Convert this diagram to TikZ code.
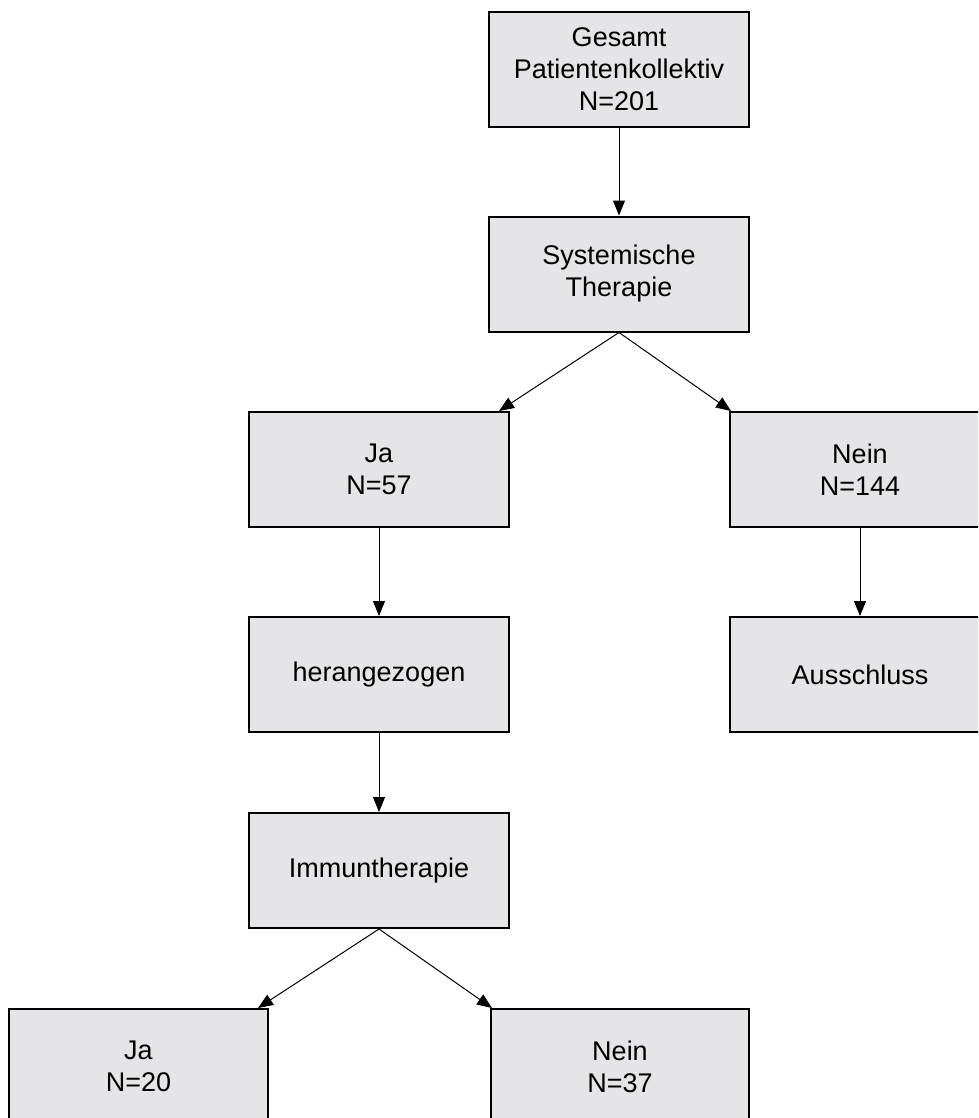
\documentclass[tikz,border=0pt]{standalone}
\usepackage{fontspec}
\setmainfont{Liberation Sans}
\usetikzlibrary{arrows.meta,calc}
\definecolor{boxfill}{RGB}{229,228,230}
\tikzset{
  box/.style={draw=black, line width=2pt, fill=boxfill, rectangle,
    minimum width=260pt, minimum height=115pt, inner sep=0pt, align=center,
    font=\fontsize{27}{32}\selectfont},
  arr/.style={draw=black, line width=1pt, -{Triangle[length=15pt,width=12pt]}}
}
\begin{document}
\begin{tikzpicture}[x=1pt,y=-1pt]
\useasboundingbox (0,0) rectangle (978,1118);
\clip (0,0) rectangle (978,1118);
\fill[white] (0,0) rectangle (978,1118);
\node[box] (b1) at (619,69.5) {Gesamt\\Patientenkollektiv\\N=201};
\node[box] (b2) at (619,274) {Systemische\\Therapie};
\node[box] (b3) at (379,469.5) {Ja\\N=57};
\node[box] (b4) at (860,469.5) {Nein\\N=144};
\node[box] (b5) at (379,674.5) {herangezogen};
\node[box] (b6) at (860,674.5) {Ausschluss};
\node[box] (b7) at (379,870.5) {Immuntherapie};
\node[box, minimum width=259pt] (b8) at (138.5,1066.5) {Ja\\N=20};
\node[box, minimum width=258pt] (b9) at (620,1066.5) {Nein\\N=37};
\coordinate (t3) at ($(b3.north east)+(-11,0)$);
\coordinate (t4) at ($(b4.north west)+(2,0)$);
\coordinate (t8) at ($(b8.north east)+(-11,0)$);
\coordinate (t9) at ($(b9.north west)+(2,0)$);
\draw[arr] (b1.south) -- (b2.north);
\draw[arr] (b2.south) -- (t3);
\draw[arr] (b2.south) -- (t4);
\draw[arr] (b3.south) -- (b5.north);
\draw[arr] (b4.south) -- (b6.north);
\draw[arr] (b5.south) -- (b7.north);
\draw[arr] (b7.south) -- (t8);
\draw[arr] (b7.south) -- (t9);
\end{tikzpicture}
\end{document}
